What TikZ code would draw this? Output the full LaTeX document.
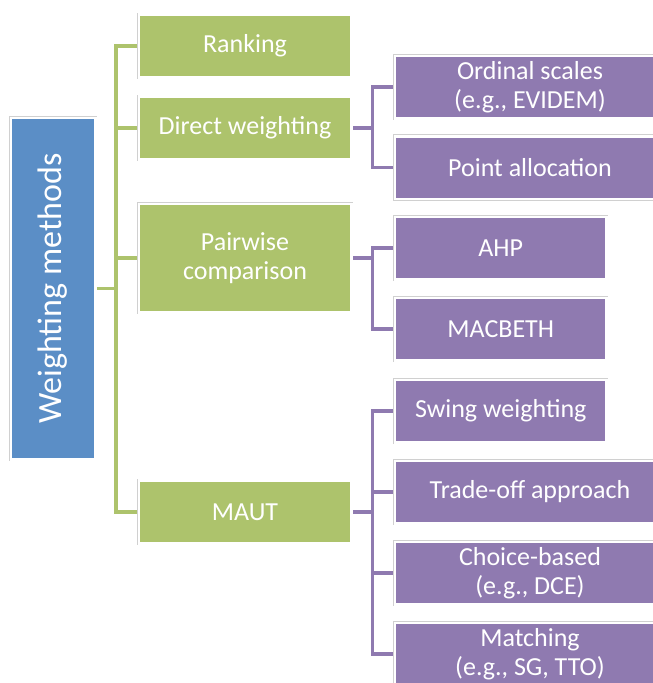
\documentclass[tikz,border=0pt]{standalone}
\usepackage{fontspec}
\setmainfont{Carlito}
\usepackage{tikz}
\usetikzlibrary{positioning,backgrounds}
\definecolor{leaf}{RGB}{173, 195, 108}
\definecolor{grape}{RGB}{143, 122, 176}
\definecolor{sky}{RGB}{91, 142, 198}
\definecolor{frame}{RGB}{208, 208, 208}
\tikzstyle{boxbase} = [rectangle, draw=white, line width=2.5pt, preaction={draw=frame, line width=3.7pt}, text=white, align=center, inner sep=0pt, font=\fontsize{26}{29}\selectfont]
\tikzstyle{root} = [boxbase, fill=sky, minimum width=84.5pt, minimum height=341.5pt, font=\fontsize{34}{40}\selectfont]
\tikzstyle{method} = [boxbase, fill=leaf, minimum width=212.5pt, minimum height=63pt]
\tikzstyle{tool} = [boxbase, fill=grape, minimum width=211.5pt, minimum height=62.5pt]
\tikzstyle{widetool} = [tool, minimum width=270pt]
\tikzstyle{gline} = [draw=leaf, line width=3.5pt]
\tikzstyle{pline} = [draw=grape, line width=3.5pt]

\begin{document}
\begin{tikzpicture}[x=1pt, y=-1pt]
\useasboundingbox (0,0) rectangle (653,683);

% root and methods =============================
\node[root] (wm) at (53,288.5) {\rotatebox{90}{Weighting methods}};
\node[method] (rank) at (245,46) {Ranking};
\node[method] (direct) at (245,128) {Direct weighting};
\node[method, minimum height=108.5pt] (pair) at (245,258) {Pairwise\\comparison};
\node[method] (maut) at (245,512) {MAUT};

% tools =============================
\node[widetool, anchor=west] (ordinal) at (393.75,87) {Ordinal scales\\(e.g., EVIDEM)};
\node[widetool, below=15.5pt of ordinal.south west, anchor=north west] (point) {Point allocation};
\node[tool, anchor=west] (ahp) at (393.75,248) {AHP};
\node[tool, below=16pt of ahp] (macbeth) {MACBETH};
\node[tool, anchor=west] (swing) at (393.75,411) {Swing weighting};
\node[widetool, below=16pt of swing.south west, anchor=north west] (tradeoff) {Trade-off approach};
\node[widetool, below=16pt of tradeoff] (choice) {Choice-based\\(e.g., DCE)};
\node[widetool, below=16pt of choice] (matching) {Matching\\(e.g., SG, TTO)};

\coordinate (gtrunk) at (116,0);
\coordinate (ptrunk) at (372.5,0);

% edges
\begin{scope}[on background layer]
\foreach \m in {rank,direct,pair,maut}
  \draw[gline] (wm.east) -| (gtrunk |- \m.west) -- (\m.west);
\foreach \t in {ordinal,point}
  \draw[pline] (direct.east) -| (ptrunk |- \t.west) -- (\t.west);
\foreach \t in {ahp,macbeth}
  \draw[pline] (pair.east) -| (ptrunk |- \t.west) -- (\t.west);
\foreach \t in {swing,tradeoff,choice,matching}
  \draw[pline] (maut.east) -| (ptrunk |- \t.west) -- (\t.west);
\end{scope}

\end{tikzpicture}
\end{document}
